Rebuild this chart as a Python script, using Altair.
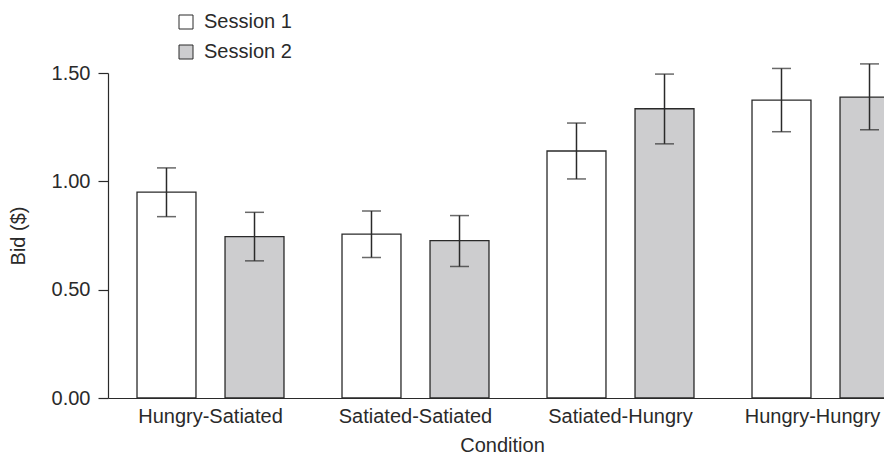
import altair as alt
import pandas as pd

conditions = ["Hungry-Satiated", "Satiated-Satiated", "Satiated-Hungry", "Hungry-Hungry"]
sessions = ["Session 1", "Session 2"]
s1_mean = [0.95, 0.756, 1.14, 1.375]
s2_mean = [0.745, 0.726, 1.335, 1.389]
s1_lo = [0.837, 0.649, 1.011, 1.229]
s1_hi = [1.062, 0.863, 1.269, 1.521]
s2_lo = [0.633, 0.607, 1.173, 1.238]
s2_hi = [0.857, 0.842, 1.495, 1.542]
y_ticks = [0, 0.5, 1.0, 1.5]

rows = []
for i, c in enumerate(conditions):
    rows.append({"condition": c, "session": sessions[0], "bid": s1_mean[i], "lo": s1_lo[i], "hi": s1_hi[i]})
    rows.append({"condition": c, "session": sessions[1], "bid": s2_mean[i], "lo": s2_lo[i], "hi": s2_hi[i]})
df = pd.DataFrame(rows)

FONT = "Liberation Sans"
INK = "#2a2a2a"

x_enc = alt.X(
    "condition:N",
    sort=conditions,
    scale=alt.Scale(paddingInner=0.283, paddingOuter=0.1415, range=[0, 820]),
    axis=alt.Axis(
        title="Condition",
        ticks=False,
        labelAngle=0,
        labelPadding=8,
        labelOffset=alt.condition("datum.value == 'Hungry-Hungry'", alt.value(-13), alt.value(0)),
        titlePadding=9,
        titleX=394,
        domainColor=INK,
        domainWidth=1.2,
    ),
)
xo_enc = alt.XOffset("session:N", sort=sessions, scale=alt.Scale(paddingInner=0.33, paddingOuter=0))

y_scale = alt.Scale(domain=[0, 1.5], nice=False)

bars = alt.Chart(df).mark_bar(stroke=INK, strokeWidth=1.3).encode(
    x=x_enc,
    xOffset=xo_enc,
    y=alt.Y(
        "bid:Q",
        scale=y_scale,
        axis=alt.Axis(
            title="Bid ($)",
            values=y_ticks,
            format=".2f",
            grid=False,
            tickSize=10,
            tickColor=INK,
            tickWidth=1.2,
            domainColor=INK,
            domainWidth=1.2,
            labelPadding=8,
            titleX=-80,
        ),
    ),
    fill=alt.Fill(
        "session:N",
        sort=sessions,
        scale=alt.Scale(domain=sessions, range=["#ffffff", "#cdcdcf"]),
        legend=alt.Legend(
            title=None,
            orient="none",
            legendX=68,
            legendY=-61,
            symbolType="square",
            symbolSize=196,
            symbolStrokeColor=INK,
            symbolStrokeWidth=1,
            labelOffset=8,
            rowPadding=10,
            padding=0,
        ),
    ),
)

rules = alt.Chart(df).mark_rule(color=INK, strokeWidth=1.5).encode(
    x=alt.X("condition:N", sort=conditions),
    xOffset=alt.XOffset("session:N", sort=sessions),
    y=alt.Y("lo:Q"),
    y2="hi:Q",
)

caps = alt.Chart(df).transform_fold(["lo", "hi"], as_=["end", "val"]).mark_tick(
    color=INK, thickness=1.5, size=19
).encode(
    x=alt.X("condition:N", sort=conditions),
    xOffset=alt.XOffset("session:N", sort=sessions),
    y=alt.Y("val:Q"),
)

chart = (
    alt.layer(bars, rules, caps)
    .properties(
        width=776,
        height=325,
        autosize=alt.AutoSizeParams(type="none"),
        padding={"left": 100, "top": 65, "right": 0, "bottom": 62},
    )
    .configure_view(stroke=None)
    .configure_axis(
        labelFont=FONT,
        titleFont=FONT,
        labelFontSize=20,
        titleFontSize=20,
        labelColor=INK,
        titleColor=INK,
        titleFontWeight="normal",
    )
    .configure_legend(labelFont=FONT, labelFontSize=20, labelColor=INK)
)

chart.save("out.html", embed_options={"renderer": "svg", "actions": False})
